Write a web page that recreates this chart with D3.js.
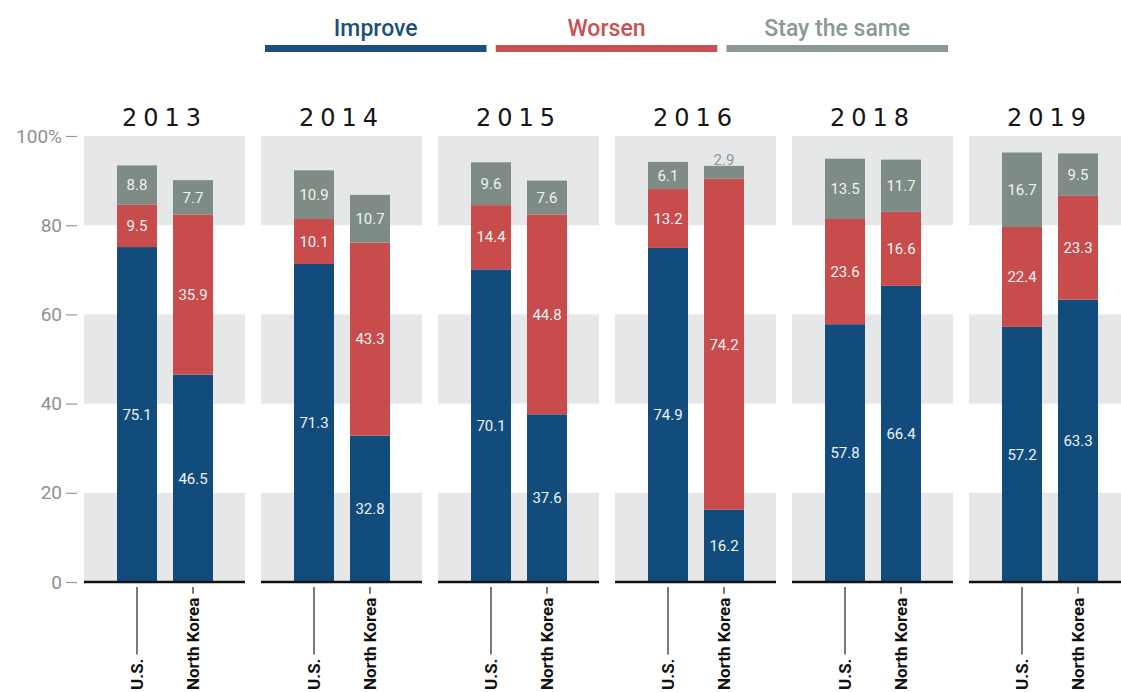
<!DOCTYPE html>
<html>
<head>
<meta charset="utf-8">
<script src="https://cdn.jsdelivr.net/npm/d3@7"></script>
<style>
  body { margin: 0; background: #fff; }
  svg { display: block; font-family: "Liberation Sans Narrow", "Roboto", sans-serif; }
</style>
</head>
<body>
<div id="container"></div>
<script>
/* DATA */
const years = ["2013", "2014", "2015", "2016", "2018", "2019"];
const countries = ["U.S.", "North Korea"];
const series = ["Improve", "Worsen", "Stay the same"];
// values per year, [U.S., North Korea]
const improve = [[75.1, 46.5], [71.3, 32.8], [70.1, 37.6], [74.9, 16.2], [57.8, 66.4], [57.2, 63.3]];
const worsen  = [[9.5, 35.9], [10.1, 43.3], [14.4, 44.8], [13.2, 74.2], [23.6, 16.6], [22.4, 23.3]];
const same    = [[8.8, 7.7], [10.9, 10.7], [9.6, 7.6], [6.1, 2.9], [13.5, 11.7], [16.7, 9.5]];
const yTicks = [0, 20, 40, 60, 80, 100];

/* CONSTANTS */
const width = 1121, height = 692;
const colors = { "Improve": "#124c7c", "Worsen": "#c84c4b", "Stay the same": "#7f8c86" };
const legendColors = { "Improve": "#1b4f7d", "Worsen": "#c95250", "Stay the same": "#8b9994" };

const svg = d3.select("#container").append("svg")
  .attr("width", width).attr("height", height);

// SCALES
const y = d3.scaleLinear().domain([0, 100]).range([582, 136]);
const xPanel = d3.scaleBand().domain(years).range([84, 1130]).paddingInner(16 / 177);
const xBar = d3.scaleBand().domain(countries).range([33, 129]).paddingInner(16 / 56);

// LEGEND
const xLegend = d3.scaleBand().domain(series).range([265, 948]).paddingInner(0.04);
const legend = svg.append("g").selectAll("g").data(series).join("g")
  .attr("transform", d => `translate(${xLegend(d)},0)`);
legend.append("rect")
  .attr("y", 45).attr("width", xLegend.bandwidth()).attr("height", 7)
  .attr("fill", d => legendColors[d]);
legend.append("text")
  .attr("x", xLegend.bandwidth() / 2).attr("y", 36)
  .attr("text-anchor", "middle")
  .attr("font-size", 23).attr("font-weight", 500)
  .attr("fill", d => legendColors[d])
  .text(d => d);

// Y AXIS
const yAxis = svg.append("g")
  .attr("transform", "translate(77,0)")
  .call(d3.axisLeft(y).tickValues(yTicks).tickSize(11).tickPadding(4)
    .tickFormat(d => d === 100 ? "100%" : d));
yAxis.select(".domain").remove();
yAxis.selectAll(".tick line").attr("stroke", "#999").attr("stroke-width", 1.2);
yAxis.selectAll(".tick text").attr("fill", "#909090").attr("font-size", 19)
  .attr("font-family", "Liberation Sans Narrow, Roboto, sans-serif");

// PANELS
const panels = svg.selectAll("g.panel").data(years).join("g")
  .attr("class", "panel")
  .attr("transform", d => `translate(${xPanel(d)},0)`);

// gray bands
panels.selectAll("rect.band").data([[80, 100], [40, 60], [0, 20]]).join("rect")
  .attr("class", "band")
  .attr("x", 0).attr("width", xPanel.bandwidth())
  .attr("y", d => y(d[1])).attr("height", d => y(d[0]) - y(d[1]))
  .attr("fill", "#e6e7e9");

// year titles
panels.append("text")
  .attr("x", xPanel.bandwidth() / 2).attr("y", 126)
  .attr("text-anchor", "middle")
  .attr("font-family", "DejaVu Sans, sans-serif")
  .attr("font-size", 24).attr("letter-spacing", 6)
  .attr("fill", "#151515")
  .text(d => d);

// bars
panels.each(function (year, i) {
  const g = d3.select(this);
  countries.forEach((c, j) => {
    const vals = [improve[i][j], worsen[i][j], same[i][j]];
    let base = 0;
    const segs = vals.map((v, k) => {
      const s = { key: series[k], v: v, y0: base, y1: base + v };
      base += v;
      return s;
    });
    const bx = xBar(c);
    g.selectAll(null).data(segs).join("rect")
      .attr("x", bx).attr("width", xBar.bandwidth())
      .attr("y", d => y(d.y1)).attr("height", d => y(d.y0) - y(d.y1))
      .attr("fill", d => colors[d.key]);
    g.selectAll(null).data(segs).join("text")
      .attr("x", bx + xBar.bandwidth() / 2)
      .attr("y", d => d.v < 4 ? y(d.y1) - 6 : y((d.y0 + d.y1) / 2))
      .attr("dy", "0.35em")
      .attr("text-anchor", "middle")
      .attr("font-size", 15)
      .attr("fill", d => d.v < 4 ? "#8b9994" : "#eef3f6")
      .text(d => d.v.toFixed(1));

    // category label with leader line
    const cx = bx + xBar.bandwidth() / 2;
    const label = g.append("text")
      .attr("transform", `translate(${cx + 6},690) rotate(-90)`)
      .attr("font-size", 17).attr("font-weight", "bold")
      .attr("fill", "#111")
      .text(c);
    const len = label.node().getComputedTextLength();
    g.append("line")
      .attr("x1", cx).attr("x2", cx)
      .attr("y1", 587).attr("y2", 690 - len - 4)
      .attr("stroke", "#222").attr("stroke-width", 1.2);
  });
});

// baseline
panels.append("line")
  .attr("x1", 0).attr("x2", xPanel.bandwidth())
  .attr("y1", y(0)).attr("y2", y(0))
  .attr("stroke", "#111").attr("stroke-width", 2.5);
</script>
</body>
</html>
